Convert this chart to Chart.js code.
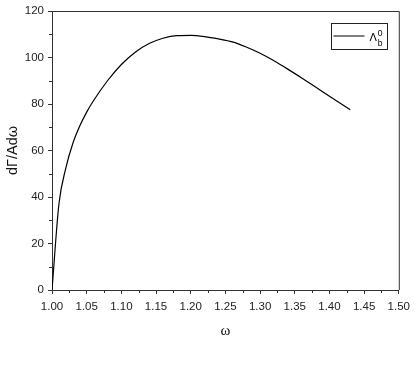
<!DOCTYPE html>
<html>
<head>
<meta charset="utf-8">
<script src="https://cdn.jsdelivr.net/npm/chart.js@4.4.1/dist/chart.umd.min.js"></script>
<style>
html,body{margin:0;padding:0;background:#fff;}
#wrap{width:416px;height:385px;position:relative;}
</style>
</head>
<body>
<div id="wrap"><canvas id="c" width="416" height="385"></canvas></div>
<script>
const omega = [1.00, 1.01, 1.02, 1.03, 1.04, 1.05, 1.06, 1.08, 1.10, 1.12, 1.14, 1.16, 1.18, 1.20, 1.22, 1.24, 1.26, 1.28, 1.30, 1.32, 1.34, 1.36, 1.38, 1.40, 1.43];
const rate  = [0, 37, 52.5, 63, 70.5, 76.5, 81.5, 90, 97, 102.3, 106, 108.3, 109.4, 109.5, 109, 108, 106.7, 104.5, 101.8, 98.6, 95, 91.2, 87.3, 83.3, 77.5];
const xTicks = [1.00, 1.05, 1.10, 1.15, 1.20, 1.25, 1.30, 1.35, 1.40, 1.45, 1.50];
const xMinor = [1.025, 1.075, 1.125, 1.175, 1.225, 1.275, 1.325, 1.375, 1.425, 1.475];
const yTicks = [0, 20, 40, 60, 80, 100, 120];
const yMinor = [10, 30, 50, 70, 90, 110];
const seriesName = 'Λ';

const axisColor = '#333';

const framePlugin = {
  id: 'frame',
  afterDraw(chart) {
    const {ctx, chartArea: a, scales} = chart;
    ctx.save();
    ctx.strokeStyle = axisColor;
    ctx.lineWidth = 1;
    ctx.beginPath();
    ctx.moveTo(a.left, a.top + 0.5);
    ctx.lineTo(a.right + 0.5, a.top + 0.5);
    ctx.lineTo(a.right + 0.5, a.bottom);
    ctx.stroke();
    ctx.beginPath();
    xMinor.forEach(v => {
      const px = Math.round(scales.x.getPixelForValue(v)) + 0.5;
      ctx.moveTo(px, a.bottom);
      ctx.lineTo(px, a.bottom + 3);
    });
    yMinor.forEach(v => {
      const py = Math.round(scales.y.getPixelForValue(v)) + 0.5;
      ctx.moveTo(a.left, py);
      ctx.lineTo(a.left - 3, py);
    });
    ctx.stroke();
    const bw = 56, bh = 26;
    const bx = Math.round(a.right - 12 - bw) + 0.5;
    const by = Math.round(a.top + 12) + 0.5;
    ctx.strokeStyle = '#222';
    ctx.strokeRect(bx, by, bw, bh);
    ctx.strokeStyle = '#000';
    ctx.beginPath();
    ctx.moveTo(bx + 2, by + 12.5);
    ctx.lineTo(bx + 33, by + 12.5);
    ctx.stroke();
    ctx.fillStyle = '#000';
    ctx.textBaseline = 'alphabetic';
    ctx.textAlign = 'left';
    ctx.font = '11px "Liberation Sans", Arial, sans-serif';
    ctx.fillText(seriesName, bx + 38, by + 17.5);
    const lw = ctx.measureText(seriesName).width;
    ctx.font = '8.5px "Liberation Sans", Arial, sans-serif';
    ctx.fillText('0', bx + 39 + lw, by + 12.5);
    ctx.fillText('b', bx + 39 + lw, by + 22);
    ctx.restore();
  }
};

new Chart(document.getElementById('c'), {
  type: 'line',
  data: {
    datasets: [{
      label: 'Λb0',
      data: omega.map((x, i) => ({x: x, y: rate[i]})),
      borderColor: '#000',
      borderWidth: 1.2,
      pointRadius: 0,
      cubicInterpolationMode: 'monotone',
      fill: false
    }]
  },
  options: {
    responsive: false,
    animation: false,
    devicePixelRatio: 1,
    layout: {padding: {top: 11, right: 17, left: 0, bottom: 0}},
    plugins: {legend: {display: false}, tooltip: {enabled: false}},
    scales: {
      x: {
        type: 'linear',
        min: 1.0, max: 1.5,
        afterFit(s) { s.height = 95; },
        afterBuildTicks(s) { s.ticks = xTicks.map(v => ({value: v})); },
        ticks: {
          color: '#222',
          padding: 6,
          maxRotation: 0,
          autoSkip: false,
          font: {family: '"Liberation Sans", Arial, sans-serif', size: 11.5},
          callback: v => Number(v).toFixed(2)
        },
        grid: {display: true, drawOnChartArea: false, drawTicks: true, tickLength: 4, color: axisColor, lineWidth: 1},
        border: {display: true, color: axisColor, width: 1},
        title: {
          display: true, text: 'ω', color: '#111',
          font: {family: '"Liberation Serif", "Times New Roman", serif', size: 15},
          padding: {top: 0, bottom: 45}
        }
      },
      y: {
        type: 'linear',
        min: 0, max: 120,
        afterFit(s) { s.width = 52; },
        afterBuildTicks(s) { s.ticks = yTicks.map(v => ({value: v})); },
        ticks: {
          color: '#222',
          padding: 4,
          autoSkip: false,
          font: {family: '"Liberation Sans", Arial, sans-serif', size: 11.5}
        },
        grid: {display: true, drawOnChartArea: false, drawTicks: true, tickLength: 4, color: axisColor, lineWidth: 1},
        border: {display: true, color: axisColor, width: 1},
        title: {
          display: true, text: 'dΓ/Adω', color: '#111',
          font: {family: '"Liberation Sans", Arial, sans-serif', size: 14.5},
          padding: {top: 4.5, bottom: 0}
        }
      }
    }
  },
  plugins: [framePlugin]
});
</script>
</body>
</html>
